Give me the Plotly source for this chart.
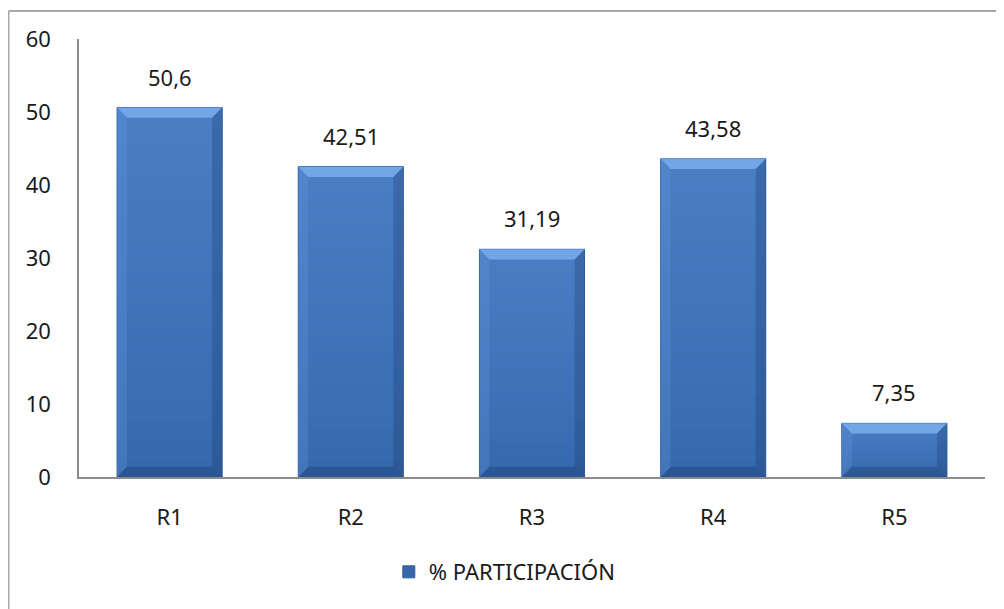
import plotly.graph_objects as go

categories = ["R1", "R2", "R3", "R4", "R5"]
values = [50.6, 42.51, 31.19, 43.58, 7.35]
value_labels = ["50,6", "42,51", "31,19", "43,58", "7,35"]
series_name = "% PARTICIPACIÓN"
y_ticks = [0, 10, 20, 30, 40, 50, 60]

FONT = "Noto Sans"
FS = 22
TXT = "#1a1a1a"
BAR = "#3566aa"
half = 0.29
d = 0.055
dv = 1.4
N_GRAD = 20

idx = list(range(len(categories)))

fig = go.Figure()
fig.add_trace(go.Bar(
    x=idx, y=values, name=series_name, width=2 * half,
    marker=dict(color=BAR, line=dict(color="#30609f", width=1)),
    showlegend=True,
))

shapes = []
for i, v in zip(idx, values):
    x0, x1 = i - half, i + half
    top = v - dv
    # vertical gradient of the face: lighter towards the top
    for k in range(N_GRAD):
        yb = v * k / N_GRAD
        shapes.append(dict(type="rect", xref="x", yref="y", layer="above", line=dict(width=0),
                           x0=x0, x1=x1, y0=yb, y1=v,
                           fillcolor="rgba(120,175,245,0.027)"))
    # top bevel (light)
    shapes.append(dict(type="path", xref="x", yref="y", layer="above", line=dict(width=0),
                       fillcolor="rgba(130,180,242,0.75)",
                       path=f"M{x0},{v} L{x1},{v} L{x1-d},{top} L{x0+d},{top} Z"))
    # left bevel
    shapes.append(dict(type="path", xref="x", yref="y", layer="above", line=dict(width=0),
                       fillcolor="rgba(100,150,220,0.3)",
                       path=f"M{x0},{v} L{x0+d},{top} L{x0+d},{dv} L{x0},0 Z"))
    # right bevel
    shapes.append(dict(type="path", xref="x", yref="y", layer="above", line=dict(width=0),
                       fillcolor="rgba(25,55,105,0.3)",
                       path=f"M{x1},{v} L{x1-d},{top} L{x1-d},{dv} L{x1},0 Z"))
    # bottom bevel
    shapes.append(dict(type="path", xref="x", yref="y", layer="above", line=dict(width=0),
                       fillcolor="rgba(20,45,90,0.3)",
                       path=f"M{x0},0 L{x0+d},{dv} L{x1-d},{dv} L{x1},0 Z"))

# chart outer border: only top and left edges are visible in the reference
border = dict(color="#a8a8a8", width=2)
shapes.append(dict(type="line", xref="paper", yref="paper", layer="below",
                   x0=-0.0778, x1=1.2, y0=1.064, y1=1.064, line=border))
shapes.append(dict(type="line", xref="paper", yref="paper", layer="below",
                   x0=-0.0778, x1=-0.0778, y0=1.064, y1=-0.6, line=border))

annotations = [dict(x=i, y=v, text=t, showarrow=False, xref="x", yref="y",
                    yanchor="bottom", yshift=14, font=dict(family=FONT, size=FS, color=TXT))
               for i, v, t in zip(idx, values, value_labels)]

fig.update_layout(
    width=1004, height=609,
    margin=dict(l=71, r=27, t=31, b=140, autoexpand=False),
    paper_bgcolor="white", plot_bgcolor="white",
    font=dict(family=FONT, size=FS, color=TXT),
    shapes=shapes, annotations=annotations,
    xaxis=dict(tickmode="array", tickvals=idx, ticktext=categories, range=[-0.5, 4.5],
               showline=True, linecolor="#8c8c8c", linewidth=2, showgrid=False,
               zeroline=False, ticks="", ticklabelstandoff=20, automargin=False),
    yaxis=dict(range=[0, 60], tickvals=y_ticks, showline=True, linecolor="#8c8c8c",
               linewidth=1.5, showgrid=False, zeroline=False, ticks="",
               ticklabelstandoff=22, automargin=False),
    legend=dict(orientation="h", x=0.47, y=-0.217, xanchor="center", yanchor="middle",
                font=dict(family=FONT, size=FS, color=TXT)),
    bargap=0.42,
)

fig.write_html("out.html")
